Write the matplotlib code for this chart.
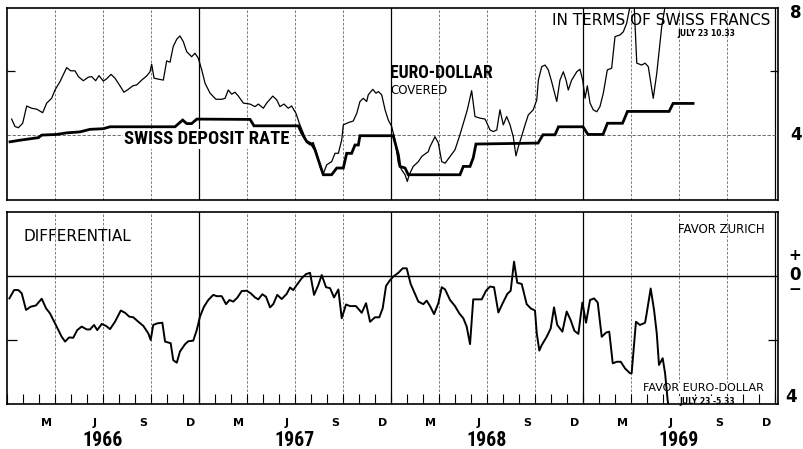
import matplotlib
matplotlib.use('Agg')
import matplotlib.pyplot as plt
from matplotlib import font_manager
from matplotlib.font_manager import FontProperties

plt.rcParams['font.family'] = ['DejaVu Sans']


def _find_bold_condensed():
    prefs = ['Liberation Sans Narrow', 'Roboto Condensed', 'Open Sans Condensed', 'DejaVu Sans']
    for name in prefs:
        for f in font_manager.fontManager.ttflist:
            if f.name != name:
                continue
            wt = f.weight if isinstance(f.weight, int) else {'bold': 700}.get(str(f.weight), 400)
            cond = ('Narrow' in name or 'Condensed' in name or 'condensed' in str(f.stretch))
            if wt >= 600 and cond and f.style == 'normal':
                return f.fname
    return None


_cf = _find_bold_condensed()
BOLD = FontProperties(fname=_cf) if _cf else FontProperties(family='DejaVu Sans', weight='bold')

# x values: months elapsed since 1 January 1966
euro_m = [0.29, 0.5, 0.71, 0.98, 1.23, 1.54, 1.86, 2.23, 2.48, 2.79, 3.0, 3.31, 3.73, 3.98, 4.25,
          4.46, 4.77, 5.08, 5.29, 5.54, 5.75, 6.02, 6.23, 6.5, 6.75, 7.06, 7.31, 7.58, 7.86, 8.11,
          8.42, 8.73, 8.94, 9.04, 9.19, 9.46, 9.77, 9.98, 10.19, 10.39, 10.61, 10.81, 11.02, 11.23,
          11.54, 11.75, 11.96, 12.17, 12.38, 12.69, 13.06, 13.42, 13.63, 13.83, 14.04, 14.25, 14.46,
          14.77, 15.19, 15.5, 15.71, 16.02, 16.23, 16.61, 16.86, 17.06, 17.31, 17.58, 17.79, 18.06,
          18.27, 18.52, 18.73, 18.94, 19.14, 19.36, 19.56, 19.77, 19.98, 20.29, 20.5, 20.71, 20.92,
          21.02, 21.33, 21.64, 21.86, 22.06, 22.27, 22.48, 22.58, 22.86, 23.06, 23.21, 23.42, 23.63,
          23.83, 24.04, 24.25, 24.46, 24.67, 24.88, 25.02, 25.14, 25.39, 25.71, 25.92, 26.13, 26.33,
          26.44, 26.75, 26.96, 27.17, 27.38, 27.69, 28.0, 28.31, 28.52, 28.77, 29.04, 29.25, 29.56,
          29.88, 30.19, 30.39, 30.61, 30.81, 31.02, 31.23, 31.44, 31.64, 31.81, 31.96, 32.17, 32.38,
          32.58, 32.89, 33.11, 33.21, 33.42, 33.63, 33.83, 34.04, 34.36, 34.56, 34.77, 34.94, 35.08,
          35.29, 35.61, 35.81, 35.98, 36.13, 36.27, 36.44, 36.64, 36.86, 37.06, 37.27, 37.52, 37.79,
          38.0, 38.31, 38.52, 38.73, 38.89, 39.04, 39.19, 39.36, 39.67, 39.88, 40.08, 40.39, 40.61,
          40.92, 41.13, 41.31]
euro_v = [4.51, 4.28, 4.24, 4.38, 4.92, 4.85, 4.82, 4.71, 5.01, 5.16, 5.42, 5.68, 6.12, 6.02, 6.02,
          5.84, 5.71, 5.82, 5.84, 5.71, 5.87, 5.70, 5.77, 5.91, 5.79, 5.55, 5.35, 5.44, 5.55, 5.58,
          5.73, 5.86, 5.99, 6.23, 5.79, 5.76, 5.73, 6.33, 6.29, 6.78, 7.01, 7.11, 6.93, 6.62,
          6.46, 6.57, 6.41, 6.05, 5.63, 5.32, 5.13, 5.13, 5.16, 5.42, 5.29, 5.35, 5.23,
          5.01, 4.98, 4.90, 4.98, 4.85, 5.01, 5.23, 5.11, 4.90, 4.98, 4.85, 4.92, 4.69,
          4.38, 4.07, 3.78, 3.70, 3.78, 3.44, 3.03, 2.80, 3.08, 3.18, 3.44, 3.44, 3.86,
          4.33, 4.40, 4.45, 4.69, 5.06, 5.16, 5.06, 5.27, 5.44, 5.32, 5.37, 5.27, 4.80,
          4.48, 4.28, 3.86, 3.13, 2.92, 2.77, 2.56, 2.77, 3.03, 3.18, 3.34, 3.42, 3.49,
          3.65, 3.96, 3.76, 3.18, 3.13, 3.34, 3.55, 4.02, 4.38, 4.80, 5.40, 4.59, 4.54,
          4.51, 4.17, 4.12, 4.17, 4.80, 4.33, 4.59, 4.33, 3.96, 3.36, 3.65, 3.98, 4.33,
          4.64, 4.80, 5.11, 5.73, 6.15, 6.20, 6.05, 5.68, 5.06, 5.73, 5.99, 5.73, 5.42,
          5.73, 5.99, 6.07, 5.73, 5.16, 5.55, 5.01, 4.80, 4.74, 4.90, 5.32, 6.05, 6.10,
          7.09, 7.14, 7.24, 7.51, 7.92, 8.15, 8.15, 6.26, 6.20, 6.26, 6.15, 5.16, 5.94,
          7.40, 8.03, 8.3]

dep_m = [0.19, 0.81, 1.96, 2.17, 3.1, 3.73, 4.56, 5.19, 6.02, 6.44, 10.5, 10.98, 11.23, 11.54, 11.86,
         15.19, 15.44, 18.21, 18.42, 18.73, 19.04, 19.25, 19.46, 19.77, 20.29, 20.61, 21.02, 21.23,
         21.54, 21.75, 21.96, 22.06, 24.14, 24.46, 24.56, 24.88, 25.08, 28.31, 28.52, 28.94, 29.14,
         29.31, 33.19, 33.5, 34.25, 34.47, 36.0, 36.31, 37.25, 37.53, 38.47, 38.78, 41.38, 41.63,
         42.88]
dep_v = [3.80, 3.85, 3.93, 4.01, 4.03, 4.08, 4.11, 4.19, 4.21, 4.27, 4.27, 4.48, 4.37, 4.37, 4.51,
         4.50, 4.30, 4.30, 4.07, 3.81, 3.73, 3.55, 3.23, 2.77, 2.77, 2.98, 2.98, 3.44,
         3.44, 3.70, 3.70, 3.99, 3.99, 3.39, 3.03, 2.98, 2.77, 2.77, 3.03, 3.03, 3.30,
         3.73, 3.76, 4.02, 4.02, 4.27, 4.27, 4.03, 4.03, 4.38, 4.38, 4.75, 4.75, 5.0,
         5.0]

diff_m = [0.15, 0.44, 0.71, 0.92, 1.19, 1.48, 1.81, 2.17, 2.44, 2.69, 3.1, 3.42, 3.63, 3.88, 4.14,
          4.39, 4.67, 4.98, 5.19, 5.44, 5.64, 5.92, 6.19, 6.44, 6.75, 7.11, 7.38, 7.64, 7.89, 8.21,
          8.52, 8.83, 8.98, 9.14, 9.39, 9.71, 9.88, 10.08, 10.23, 10.39, 10.61, 10.81, 11.13, 11.33,
          11.64, 11.86, 12.06, 12.31, 12.58, 12.89, 13.11, 13.42, 13.69, 13.9, 14.14, 14.39, 14.67,
          14.98, 15.23, 15.5, 15.71, 15.96, 16.19, 16.44, 16.64, 16.89, 17.17, 17.48, 17.69, 17.89,
          18.11, 18.42, 18.69, 18.94, 19.19, 19.46, 19.67, 19.94, 20.19, 20.44, 20.71, 20.92, 21.19,
          21.44, 21.81, 22.17, 22.44, 22.69, 23.0, 23.27, 23.48, 23.69, 23.94, 24.14, 24.46, 24.73,
          24.98, 25.23, 25.44, 25.71, 26.02, 26.23, 26.44, 26.69, 26.96, 27.17, 27.38, 27.69, 28.0,
          28.27, 28.52, 28.73, 28.94, 29.14, 29.36, 29.67, 29.94, 30.19, 30.44, 30.71, 30.98, 31.27,
          31.48, 31.69, 31.89, 32.17, 32.48, 32.73, 33.0, 33.11, 33.27, 33.42, 33.73, 33.98, 34.19,
          34.39, 34.71, 34.98, 35.23, 35.46, 35.71, 35.96, 36.19, 36.44, 36.69, 36.92, 37.17, 37.44,
          37.64, 37.86, 38.11, 38.36, 38.63, 38.94, 39.04, 39.31, 39.56, 39.88, 39.98, 40.23, 40.44,
          40.61, 40.75, 40.98, 41.13, 41.29, 41.36]
diff_v = [-0.70, -0.44, -0.44, -0.54, -1.06, -0.96, -0.92, -0.71, -1.01, -1.17, -1.58, -1.90, -2.05,
          -1.92, -1.93, -1.69, -1.58, -1.67, -1.67, -1.53, -1.69, -1.50, -1.56, -1.66, -1.43, -1.08,
          -1.15, -1.27, -1.29, -1.43, -1.56, -1.79, -2.00, -1.53, -1.48, -1.46, -2.05, -2.08, -2.10,
          -2.63, -2.71, -2.36, -2.13, -2.04, -2.02, -1.69, -1.27, -0.96, -0.75, -0.59, -0.63, -0.63,
          -0.88, -0.75, -0.80, -0.68, -0.47, -0.46, -0.54, -0.67, -0.73, -0.57, -0.65, -0.98, -0.88,
          -0.59, -0.72, -0.56, -0.36, -0.44, -0.28, -0.07, 0.06, 0.10, -0.59, -0.28, 0.03, -0.35,
          -0.38, -0.67, -0.42, -1.32, -0.89, -0.94, -0.94, -1.15, -0.85, -1.43, -1.29, -1.29, -1.01,
          -0.31, -0.13, -0.02, 0.10, 0.24, 0.24, -0.25, -0.49, -0.80, -0.88, -0.77, -0.94, -1.19,
          -0.85, -0.35, -0.42, -0.75, -0.94, -1.17, -1.32, -1.58, -2.13, -0.73, -0.73, -0.73, -0.46,
          -0.33, -0.35, -1.14, -0.85, -0.56, -0.46, 0.45, -0.21, -0.25, -0.88, -1.01, -1.08, -1.79,
          -2.33, -2.16, -1.90, -1.64, -0.98, -1.53, -1.74, -1.11, -1.38, -1.71, -1.81, -0.83, -1.46,
          -0.75, -0.70, -0.83, -1.90, -1.77, -1.74, -2.73, -2.68, -2.68, -2.89, -3.04, -3.04, -1.43,
          -1.53, -1.46, -1.17, -0.39, -1.06, -1.79, -2.78, -2.57, -3.04, -3.88, -4.1]

month_names = ['M', 'J', 'S', 'D']
year_names = ['1966', '1967', '1968', '1969']

W, H = 804, 449
fig = plt.figure(figsize=(W / 100, H / 100), dpi=100)
fig.patch.set_facecolor('white')


def fx(px):
    return px / W


def fy(py):
    return 1 - py / H


X0, X1 = 7, 778
ax1 = fig.add_axes([fx(X0), fy(200), fx(X1) - fx(X0), fy(7.5) - fy(200)])
ax2 = fig.add_axes([fx(X0), fy(404), fx(X1) - fx(X0), fy(212) - fy(404)])

XMAX = (X1 - X0) / 16.0
for ax in (ax1, ax2):
    ax.set_xlim(0, XMAX)
    for s in ax.spines.values():
        s.set_linewidth(1.2)
        s.set_color('black')
    for q in range(1, 17):
        mth = q * 3
        if mth % 12 == 0:
            ax.axvline(mth, color='black', lw=0.9, zorder=1)
        else:
            ax.axvline(mth, color='#666666', lw=0.6, ls=(0, (3, 2)), zorder=1)
    ax.set_xticks([])

# top panel
ax1.set_ylim(1.98, 8.0)
ax1.set_yticks([6])
ax1.set_yticklabels([])
ax1.tick_params(axis='y', direction='in', length=6, width=0.9, left=True, right=True)
ax1.axhline(4, color='#555555', lw=0.6, ls=(0, (4, 2)), zorder=1)
ax1.plot(euro_m, euro_v, color='black', lw=0.9, zorder=3, clip_on=True)
ax1.plot(dep_m, dep_v, color='black', lw=2.0, zorder=4, solid_joinstyle='miter')

# bottom panel
ax2.set_ylim(-4, 2)
ax2.set_yticks([-2])
ax2.set_yticklabels([])
ax2.tick_params(axis='y', direction='in', length=7, width=0.9, left=True, right=True)
ax2.axhline(0, color='black', lw=1.0, zorder=2)
ax2.plot(diff_m, diff_v, color='black', lw=1.4, zorder=3)

# month ticks and labels on the lower panel
ax2.set_xticks(range(0, 49))
ax2.set_xticklabels([])
ax2.tick_params(axis='x', which='major', direction='in', length=7, width=0.8, top=False)
mids = [y * 12 + k * 3 + 2.5 for y in range(4) for k in range(4)]
ax2.set_xticks(mids, minor=True)
ax2.set_xticklabels(month_names * 4, minor=True, fontsize=8, fontweight='bold')
ax2.tick_params(axis='x', which='minor', length=0, pad=10)

fit = []  # (text artist, target width px)
for i, yn in enumerate(year_names):
    xm = 7 + 16 * (i * 12 + 6)
    t = fig.text(fx(xm), fy(441), yn, ha='center', va='center', fontproperties=BOLD.copy())
    t.set_fontsize(13)
    fit.append((t, 40))

# annotations
fig.text(fx(770), fy(20.5), 'IN TERMS OF SWISS FRANCS', ha='right', va='center', fontsize=11)
fig.text(fx(735), fy(33.5), 'JULY 23 10.33', ha='right', va='center', fontsize=5.5, fontweight='bold')
t = fig.text(fx(390), fy(73), 'EURO-DOLLAR', ha='left', va='center', fontproperties=BOLD.copy())
t.set_fontsize(13)
fit.append((t, 103))
fig.text(fx(390), fy(90), 'COVERED', ha='left', va='center', fontsize=8.5)
t = ax1.text(fx(124), fy(139), 'SWISS DEPOSIT RATE', ha='left', va='center', fontproperties=BOLD.copy(),
             transform=fig.transFigure, zorder=2,
             bbox=dict(facecolor='white', edgecolor='none', pad=0.5))
t.set_fontsize(13)
fit.append((t, 164))
fig.text(fx(24), fy(236.5), 'DIFFERENTIAL', ha='left', va='center', fontsize=11)
fig.text(fx(765), fy(229.5), 'FAVOR ZURICH', ha='right', va='center', fontsize=8.5)
t = ax2.text(fx(764), fy(388), 'FAVOR EURO-DOLLAR', ha='right', va='center', fontsize=9.5,
             transform=fig.transFigure, zorder=2,
             bbox=dict(facecolor='white', edgecolor='none', pad=0.3))
fit.append((t, 121))
ax2.text(fx(735), fy(401), 'JULY 23 -5.33', ha='right', va='center', fontsize=5.5, fontweight='bold',
         transform=fig.transFigure, zorder=2,
         bbox=dict(facecolor='white', edgecolor='none', pad=0.3))

# right side scale labels
fig.text(fx(796), fy(13), '8', ha='center', va='center', fontsize=12, fontweight='bold')
fig.text(fx(796), fy(135), '4', ha='center', va='center', fontsize=12, fontweight='bold')
fig.text(fx(795), fy(256), '+', ha='center', va='center', fontsize=11, fontweight='bold')
fig.text(fx(795), fy(275), '0', ha='center', va='center', fontsize=12, fontweight='bold')
fig.text(fx(795), fy(290), '\u2212', ha='center', va='center', fontsize=11, fontweight='bold')
fig.text(fx(791), fy(397), '4', ha='center', va='center', fontsize=12, fontweight='bold')

# scale selected labels so that their widths match the reference
fig.canvas.draw()
r = fig.canvas.get_renderer()
for t, target in fit:
    w = t.get_window_extent(r).width
    if w > 0:
        t.set_fontsize(t.get_fontsize() * target / w)

fig.savefig('out.png', dpi=100, facecolor='white')
